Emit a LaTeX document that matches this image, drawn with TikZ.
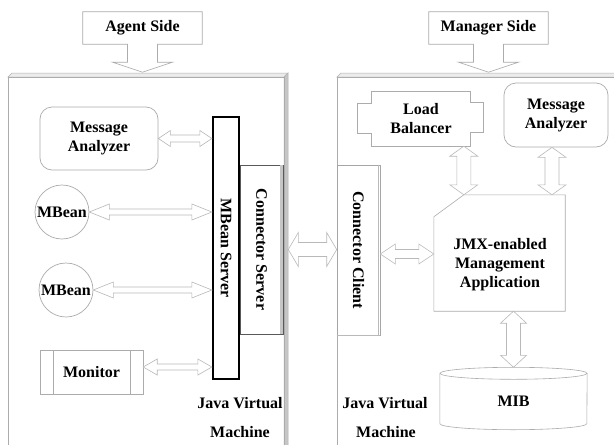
\documentclass[tikz,border=0pt]{standalone}
\usepackage{fontspec}
\setmainfont{Liberation Serif}
\usetikzlibrary{calc}
\tikzset{
  txt/.style={font=\fontsize{16}{19}\selectfont\bfseries, align=center},
  shp/.style={draw=gray!65, line width=0.7pt},
  rbox/.style={shp, txt, rounded corners=12pt, inner sep=0pt},
  plain/.style={txt, inner sep=0pt},
  circ/.style={shp, txt, circle, inner sep=0pt, minimum size=54pt},
  darr/.style={draw=gray!55, line width=0.6pt, fill=white, line join=miter},
  face/.style={draw=gray!60, line width=0.5pt},
}
\newcommand\harr[5]{\draw[darr] let \p1=(#1), \p2=(#2) in
  (\x1,\y1) -- (\x1+#3,\y1+#4) -- (\x1+#3,\y1+#5) -- (\x2-#3,\y1+#5) -- (\x2-#3,\y1+#4) --
  (\x2,\y1) -- (\x2-#3,\y1-#4) -- (\x2-#3,\y1-#5) -- (\x1+#3,\y1-#5) -- (\x1+#3,\y1-#4) -- cycle;}
\newcommand\varr[5]{\draw[darr] let \p1=(#1), \p2=(#2) in
  (\x1,\y1) -- (\x1+#4,\y1-#3) -- (\x1+#5,\y1-#3) -- (\x1+#5,\y2+#3) -- (\x1+#4,\y2+#3) --
  (\x1,\y2) -- (\x1-#4,\y2+#3) -- (\x1-#5,\y2+#3) -- (\x1-#5,\y1-#3) -- (\x1-#4,\y1-#3) -- cycle;}
\begin{document}
\begin{tikzpicture}[x=1pt,y=-1pt]
\useasboundingbox (0,0) rectangle (614,445);
\fill[white] (0,0) rectangle (614,445);

% ---- left JVM frame ----
\draw[face, fill=gray!15] (8,77) -- (12,73) -- (288,73) -- (284,77) -- cycle;
\draw[face, fill=gray!45] (284,77) -- (288,73) -- (288,450) -- (284,450) -- cycle;
\draw[shp] (8,450) -- (8,77) -- (284,77) -- (284,450);

% ---- right JVM frame ----
\draw[face, fill=gray!15] (337,77) -- (341,73) -- (620,73) -- (616,77) -- cycle;
\draw[shp] (337,450) -- (337,77) -- (616,77);

% ---- callouts ----
\node[plain, minimum width=119pt, minimum height=32pt] (as) at (142.5,28) {Agent Side};
\draw[shp] (as.north west) -- (as.north east) -- (as.south east) -- ([xshift=15pt]as.south) --
  ++(0,18) -- ++(15,0) -- ++(-30,10) -- ++(-30,-10) -- ++(15,0) -- ([xshift=-15pt]as.south) --
  (as.south west) -- cycle;
\node[plain, minimum width=119pt, minimum height=32pt] (ms) at (488.5,28) {Manager Side};
\draw[shp] (ms.north west) -- (ms.north east) -- (ms.south east) -- ([xshift=15pt]ms.south) --
  ++(0,18) -- ++(15,0) -- ++(-30,10) -- ++(-30,-10) -- ++(15,0) -- ([xshift=-15pt]ms.south) --
  (ms.south west) -- cycle;

% ---- agent side nodes ----
\node[rbox, minimum width=118pt, minimum height=63pt] (ma1) at (99,138.5) {Message\\Analyzer};
\node[circ] (mb1) at (62,212) {MBean};
\node[circ] (mb2) at (66,290) {MBean};
\node[plain, minimum width=103pt, minimum height=44pt] (mon) at (91.5,372) {Monitor};
\draw[shp, line width=0.5pt] (mon.north west) rectangle (mon.south east);
\draw[shp, line width=0.5pt] ([xshift=13pt]mon.north west) -- ([xshift=13pt]mon.south west);
\draw[shp, line width=0.5pt] ([xshift=-13pt]mon.north east) -- ([xshift=-13pt]mon.south east);

\node[draw=gray!70!black, line width=0.6pt, minimum width=43pt, minimum height=169pt, inner sep=0pt,
  label={[txt, rotate=-90]center:Connector Server}] (cs) at (261.5,249.5) {};
\fill[gray!45] ([xshift=-3pt]cs.north east) rectangle (cs.south east);
\node[draw=black, line width=2.2pt, minimum width=26pt, minimum height=262pt, inner sep=0pt, fill=white,
  label={[txt, rotate=-90]center:MBean Server}] (mbs) at (226,248) {};

% ---- manager side nodes ----
\node[draw=gray!70, line width=0.6pt, minimum width=43pt, minimum height=170pt, inner sep=0pt,
  label={[txt, rotate=-90]center:Connector Client}] (cc) at (358.5,250) {};
\draw[gray!55, line width=1.2pt] ([xshift=-1.5pt]cc.north east) -- ([xshift=-1.5pt]cc.south east);
\draw[gray!55, line width=1pt] (cc.south west) -- (cc.south east);

\node[plain, minimum width=98pt, minimum height=54pt] (lb) at (421,119) {Load\\Balancer};
\draw[shp] (lb.north west) -- (lb.north east) -- ++(0,11) -- ++(13,0) -- ++(0,30) -- ++(-13,0) --
  (lb.south east) -- (lb.south west) -- ++(0,-13) -- ++(-14,0) -- ++(0,-30) -- ++(14,0) -- cycle;

\node[rbox, minimum width=104pt, minimum height=64pt] (ma2) at (556,115) {Message\\Analyzer};

\node[inner sep=0pt, minimum width=131pt, minimum height=116pt] (jmx) at (499.5,253) {};
\coordinate (jc) at ([xshift=30pt]jmx.north west);
\draw[shp, line width=0.6pt] (jc) -- (jmx.north east) -- (jmx.south east) -- (jmx.south west) --
  ([yshift=-22pt]jmx.north west) -- cycle;
\node[plain] (jmxt) at (500,265) {JMX-enabled\\Management\\Application};

\node[plain, minimum width=147pt, minimum height=62pt] (mib) at (513.5,398.5) {};
\draw[shp, line width=0.6pt] ([yshift=-6pt]mib.north west) -- ([yshift=6pt]mib.south west)
  arc[start angle=180, end angle=360, x radius=73.5pt, y radius=6pt] -- ([yshift=-6pt]mib.north east);
\draw[shp, line width=0.6pt] ([yshift=-6pt]mib.north) ellipse [x radius=73.5pt, y radius=6pt];
\node[plain] (mibt) at (513.5,401) {MIB};

% ---- JVM labels ----
\node[plain, anchor=base] (jv1) at (240,408) {Java Virtual};
\node[plain, anchor=base] (jm1) at (240,437) {Machine};
\node[plain, anchor=base] (jv2) at (385,408) {Java Virtual};
\node[plain, anchor=base] (jm2) at (386,437) {Machine};

% ---- double arrows ----
\harr{ma1.east}{mbs.west |- ma1.east}{12pt}{8pt}{3.5pt}
\harr{mb1.east}{mbs.west |- mb1.east}{20pt}{8pt}{3pt}
\harr{mb2.east}{mbs.west |- mb2.east}{20pt}{8pt}{3pt}
\coordinate (monr) at ([yshift=5pt]mon.east);
\harr{monr}{mbs.west |- monr}{14pt}{8pt}{3pt}
\coordinate (csr) at ([xshift=5pt]cs.east);
\harr{csr}{cc.west}{10pt}{17pt}{7pt}
\coordinate (ccr) at ([yshift=-4pt]cc.east);
\harr{ccr}{jmx.west |- ccr}{15pt}{10pt}{4.5pt}
\varr{lb.south -| jc}{jc}{10pt}{14pt}{7pt}
\coordinate (ma2b) at ([xshift=-4pt]ma2.south);
\varr{ma2b}{ma2b |- jmx.north}{10pt}{14pt}{7pt}
\varr{jmx.south -| mib.north}{mib.north}{12pt}{13pt}{7pt}
\end{tikzpicture}
\end{document}
